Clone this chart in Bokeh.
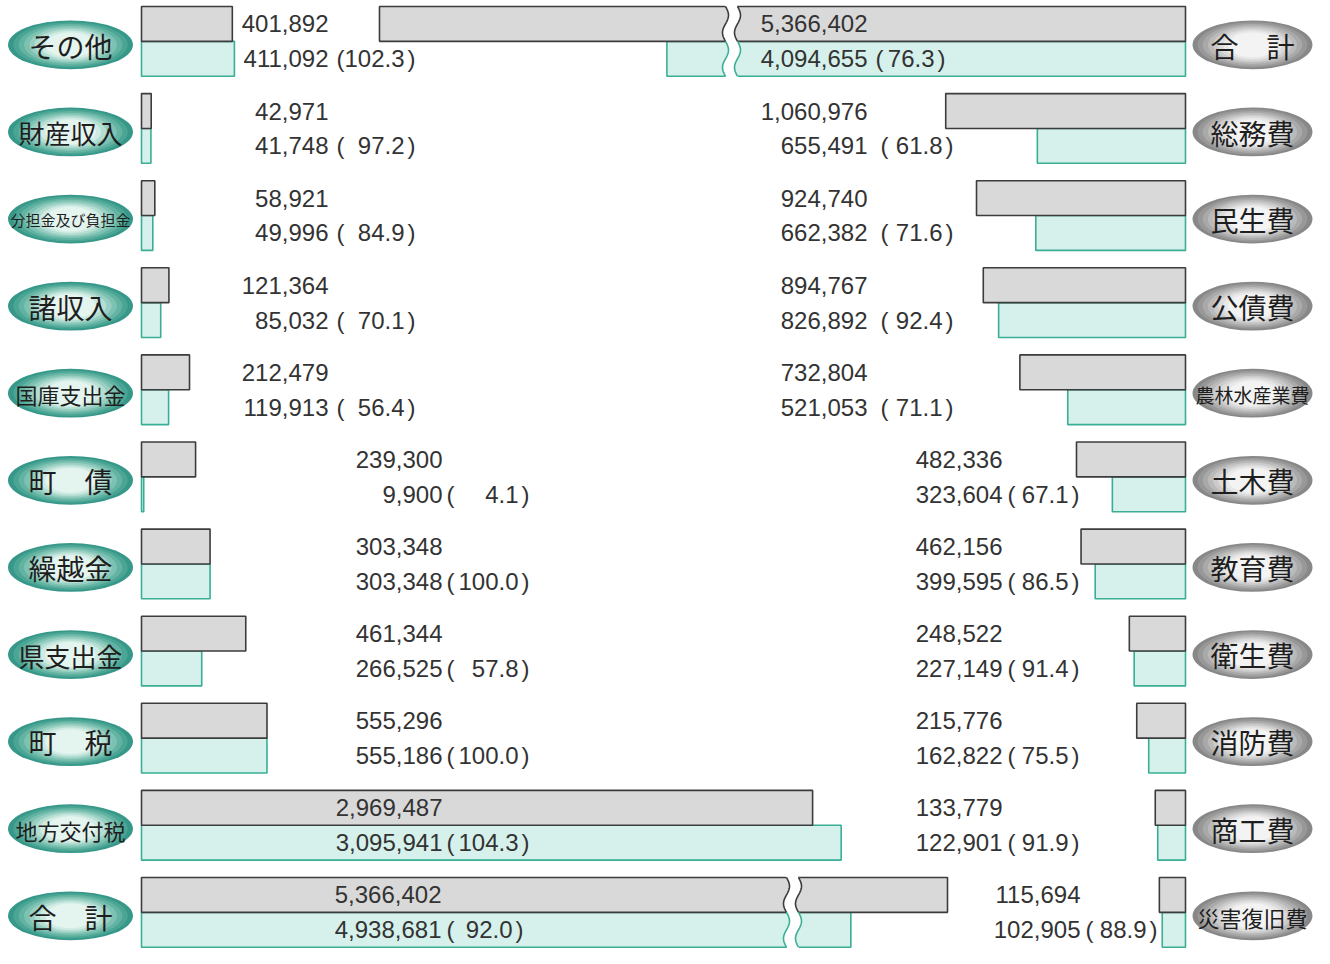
import numpy as np
from bokeh.plotting import figure
from bokeh.models import Range1d, ColumnDataSource
from bokeh.core.properties import value, field
from bokeh.embed import file_html
from bokeh.resources import INLINE

# ---------------- data ----------------
rev_labels = ["その他", "財産収入", "分担金及び負担金", "諸収入", "国庫支出金", "町　債",
              "繰越金", "県支出金", "町　税", "地方交付税", "合　計"]
rev_budget = [401892, 42971, 58921, 121364, 212479, 239300, 303348, 461344, 555296, 2969487, 5366402]
rev_actual = [411092, 41748, 49996, 85032, 119913, 9900, 303348, 266525, 555186, 3095941, 4938681]
rev_rate = [102.3, 97.2, 84.9, 70.1, 56.4, 4.1, 100.0, 57.8, 100.0, 104.3, 92.0]

exp_labels = ["合　計", "総務費", "民生費", "公債費", "農林水産業費", "土木費",
              "教育費", "衛生費", "消防費", "商工費", "災害復旧費"]
exp_budget = [5366402, 1060976, 924740, 894767, 732804, 482336, 462156, 248522, 215776, 133779, 115694]
exp_actual = [4094655, 655491, 662382, 826892, 521053, 323604, 399595, 227149, 162822, 122901, 102905]
exp_rate = [76.3, 61.8, 71.6, 92.4, 71.1, 67.1, 86.5, 91.4, 75.5, 91.9, 88.9]

# ---------------- layout ----------------
W, H = 1314, 948
PXU = 2.26e-4          # pixels per unit (thousand yen)
U = 1.0 / PXU
ORIGIN_PX = 141.0      # px of left bars' zero


def X(px):
    return (np.asarray(px, dtype=float) - ORIGIN_PX) * U


X0, X1 = float(X(0)), float(X(W))
RA = float(X(1185))    # right bars anchor
CUT = 1_800_000        # value removed at the break
BREAK_AT = 4_000_000
HB = 0.4               # bar height in row units
PITCH = 87.1
Y_END = -HB - 6.0 / PITCH
Y_START = Y_END + H / PITCH

rows = np.arange(11)

p = figure(width=W, height=H, x_range=Range1d(X0, X1), y_range=Range1d(Y_START, Y_END),
           output_backend="svg", toolbar_location=None, min_border=0,
           x_axis_type=None, y_axis_type=None)
p.outline_line_color = None
p.background_fill_color = "white"
p.border_fill_color = "white"

GRAY_F, GRAY_L = "#d9d9d9", "#3c3c3c"
TEAL_F, TEAL_L = "#d6f1eb", "#3aae95"


def disp(v):
    return v - CUT if v > BREAK_AT else v


rb = np.array([disp(v) for v in rev_budget], float)
ra = np.array([disp(v) for v in rev_actual], float)
eb = np.array([disp(v) for v in exp_budget], float)
ea = np.array([disp(v) for v in exp_actual], float)

# left (revenue) bars
p.quad(left=0, right=ra, top=rows, bottom=rows + HB, fill_color=TEAL_F,
       line_color=TEAL_L, line_width=1.6)
p.quad(left=0, right=rb, top=rows - HB, bottom=rows, fill_color=GRAY_F,
       line_color=GRAY_L, line_width=1.6)
# right (expenditure) bars
p.quad(left=RA - ea, right=RA, top=rows, bottom=rows + HB, fill_color=TEAL_F,
       line_color=TEAL_L, line_width=1.6)
p.quad(left=RA - eb, right=RA, top=rows - HB, bottom=rows, fill_color=GRAY_F,
       line_color=GRAY_L, line_width=1.6)


# ---------------- breaks ----------------
def add_break(xc_px, r):
    t = np.linspace(0, 1, 81)
    ext = 0.04
    yy = (r - HB - ext) + t * (2 * HB + 2 * ext)
    tt = (yy - (r - HB)) / (2 * HB)
    off = 3.0 * np.sin(2 * np.pi * 2 * tt)
    lx = X(xc_px - 6 + off)
    rx = X(xc_px + 6 + off)
    p.patch(np.concatenate([lx, rx[::-1]]), np.concatenate([yy, yy[::-1]]),
            fill_color="white", line_color=None)
    t2 = np.linspace(0, 1, 41)
    for half, col in ((0, GRAY_L), (1, TEAL_L)):
        ty = (half + t2) / 2.0
        yv = (r - HB) + ty * 2 * HB
        o = 3.0 * np.sin(2 * np.pi * 2 * ty)
        p.multi_line([list(X(xc_px - 6 + o)), list(X(xc_px + 6 + o))],
                     [list(yv), list(yv)], line_color=col, line_width=1.6)


add_break(792, 10)
add_break(731, 0)

# ---------------- label ellipses ----------------
EW_L = 125 * U
EW_R = 120 * U
EH = 0.56
teal_layers = ["#37988a", "#4aa594", "#62b3a2", "#7cc1b1", "#98cfc2", "#b5ded3", "#cfebe3", "#e4f4ef"]
gray_layers = ["#888888", "#989898", "#a9a9a9", "#bababa", "#cbcbcb", "#dbdbdb", "#e8e8e8", "#f3f3f3"]
lx_c = float(X(70))
rx_c = float(X(1252))
ye = rows + 0.04
nL = len(teal_layers)
for i in range(nL):
    s = 1.0 - i * 0.085
    p.ellipse(x=lx_c, y=ye, width=EW_L * s, height=EH * (1.0 - i * 0.07),
              fill_color=teal_layers[i], line_color=None)
    p.ellipse(x=rx_c, y=ye, width=EW_R * s, height=EH * (1.0 - i * 0.07),
              fill_color=gray_layers[i], line_color=None)

size_by_len = {3: "28px", 4: "26px", 5: "22px", 6: "19px", 8: "15px"}
lsrc = ColumnDataSource(dict(x=[lx_c] * 11, y=list(rows + 0.05), text=rev_labels,
                             fs=[size_by_len[len(s)] for s in rev_labels]))
rsrc = ColumnDataSource(dict(x=[rx_c] * 11, y=list(rows + 0.05), text=exp_labels,
                             fs=[size_by_len[len(s)] for s in exp_labels]))
for src in (lsrc, rsrc):
    p.text(x="x", y="y", text="text", source=src, text_font=value("Noto Sans CJK JP"),
           text_font_size=field("fs"), text_align="center", text_baseline="middle",
           text_color="#1e1e1e")

# ---------------- value texts ----------------
# (number right edge, "(" left edge, rate right edge, ")" left edge) in px
left_cols = [(328, 336, 404, 407)] * 5 + [(442, 446, 518, 521)] * 5 + [(441, 446, 512, 515)]
right_cols = [(867, 875, 934, 937)] + [(867, 880, 942, 945)] * 4 + [(1002, 1007, 1068, 1071)] * 5 + \
             [(1080, 1085, 1146, 1149)]

NUM_FONT = value("Liberation Sans")
FS = "24px"
TC = "#333333"


def add_texts(cols, budget, actual, rate):
    nx = [float(X(c[0])) for c in cols]
    lp = [float(X(c[1])) for c in cols]
    pr = [float(X(c[2])) for c in cols]
    rp = [float(X(c[3])) for c in cols]
    yt = list(rows - HB / 2)
    yb = list(rows + HB / 2)
    common = dict(text_font=NUM_FONT, text_font_size=FS, text_baseline="middle", text_color=TC)
    p.text(x=nx, y=yt, text=[f"{v:,}" for v in budget], text_align="right", **common)
    p.text(x=nx, y=yb, text=[f"{v:,}" for v in actual], text_align="right", **common)
    p.text(x=lp, y=yb, text=["("] * 11, text_align="left", **common)
    p.text(x=pr, y=yb, text=[f"{v:.1f}" for v in rate], text_align="right", **common)
    p.text(x=rp, y=yb, text=[")"] * 11, text_align="left", **common)


add_texts(left_cols, rev_budget, rev_actual, rev_rate)
add_texts(right_cols, exp_budget, exp_actual, exp_rate)

open("out.html", "w").write(file_html(p, INLINE))
